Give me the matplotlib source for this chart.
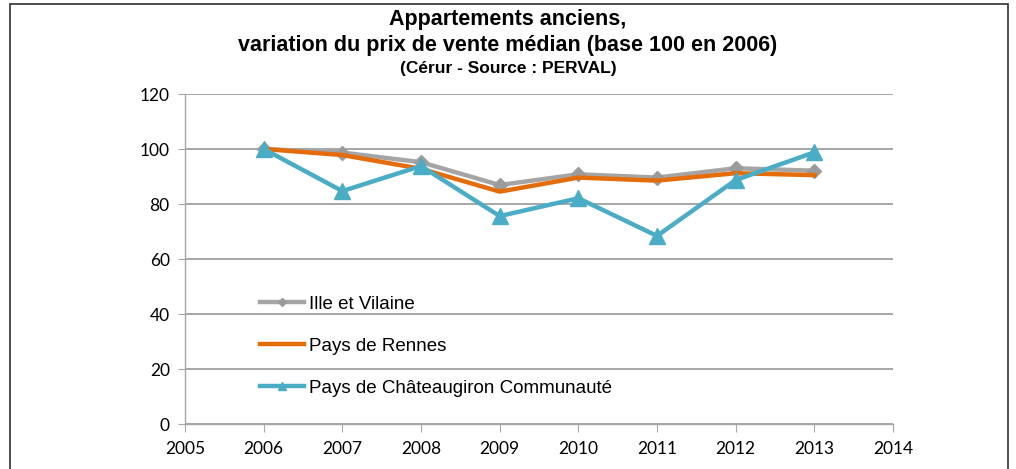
import matplotlib
matplotlib.use('Agg')
import matplotlib.pyplot as plt
from matplotlib.patches import Rectangle

years = [2006, 2007, 2008, 2009, 2010, 2011, 2012, 2013]
ille_vilaine = [100, 98.7, 95.2, 86.9, 90.8, 89.6, 93.0, 92.1]
pays_rennes = [100, 97.8, 92.8, 84.5, 89.6, 88.5, 91.2, 90.5]
chateaugiron = [100, 84.7, 93.8, 75.6, 82.1, 68.4, 88.7, 98.8]
labels = ['Ille et Vilaine', 'Pays de Rennes', 'Pays de Châteaugiron Communauté']

tick_font = ['Lato', 'DejaVu Sans']
text_font = ['Liberation Sans', 'DejaVu Sans']

fig = plt.figure(figsize=(10.16, 4.69), dpi=100, facecolor='white')
ax = fig.add_axes([185 / 1016, 1 - 424 / 469, (893 - 185) / 1016, (424 - 94) / 469])

grid_c = '#a6a6a6'
ax.plot(years, ille_vilaine, color='#a5a5a5', lw=3.2, marker='D', ms=7,
        mfc='#9b9b9b', mec='#9b9b9b', label=labels[0], zorder=3)
ax.plot(years, pays_rennes, color='#e46c0a', lw=3.2, label=labels[1], zorder=4)
ax.plot(years, chateaugiron, color='#4bacc6', lw=3.2, marker='^', ms=11,
        mfc='#4bacc6', mec='#4bacc6', label=labels[2], zorder=5)

ax.set_xlim(2005, 2014)
ax.set_ylim(0, 120)
ax.set_xticks(range(2005, 2015))
ax.set_yticks(range(0, 121, 20))
ax.yaxis.grid(True, color=grid_c, lw=1.4)
ax.set_axisbelow(True)
for s in ['top', 'right']:
    ax.spines[s].set_visible(False)
for s in ['left', 'bottom']:
    ax.spines[s].set_color(grid_c)
    ax.spines[s].set_linewidth(1.0)
ax.tick_params(axis='x', direction='out', length=6, color=grid_c, pad=6)
ax.tick_params(axis='y', direction='out', length=5, color=grid_c, pad=6)
for t in ax.get_xticklabels() + ax.get_yticklabels():
    t.set_family(tick_font)
    t.set_fontsize(12.5)

leg = ax.legend(loc='upper left', bbox_to_anchor=(0.095, 0.412), frameon=False,
                handlelength=2.35, handletextpad=0.27, labelspacing=1.33,
                markerscale=0.55, prop={'family': text_font, 'size': 13.5},
                borderaxespad=0)

fig.text(0.5, 1 - 20 / 469, 'Appartements anciens,', ha='center', va='center',
         fontsize=15.5, fontweight='bold', family=text_font)
fig.text(0.5, 1 - 45 / 469, 'variation du prix de vente médian (base 100 en 2006)',
         ha='center', va='center', fontsize=15.5, fontweight='bold', family=text_font)
fig.text(0.5, 1 - 68 / 469, '(Cérur - Source : PERVAL)', ha='center', va='center',
         fontsize=12.5, fontweight='bold', family=text_font)

fig.patches.append(Rectangle((10 / 1016, -0.05), 998 / 1016, 1.05 - 4 / 469,
                             transform=fig.transFigure, fill=False,
                             edgecolor='#404040', lw=1.3))

fig.savefig('out.png', dpi=100)
